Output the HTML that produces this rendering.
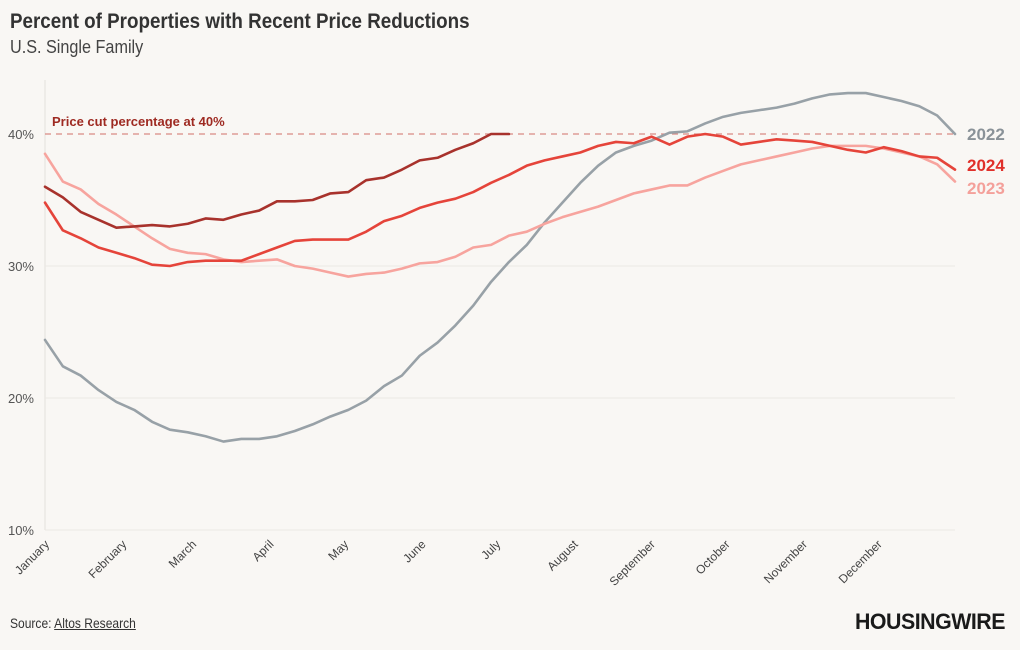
<!DOCTYPE html>
<html><head><meta charset="utf-8">
<style>
body{margin:0;background:#f9f7f4;font-family:"Liberation Sans",sans-serif;}
#wrap{position:relative;width:1020px;height:650px;overflow:hidden;background:#f9f7f4}
.t{position:absolute;left:10px;top:10px;font-size:21px;font-weight:bold;color:#333;transform:scaleX(0.895);transform-origin:left top;white-space:nowrap}
.st{position:absolute;left:10px;top:37px;font-size:18px;color:#444;transform:scaleX(0.9);transform-origin:left top;white-space:nowrap}
.src{position:absolute;left:10px;top:615px;font-size:14px;color:#333;transform:scaleX(0.86);transform-origin:left top;white-space:nowrap}
.src u{color:#333}
.logo{position:absolute;left:855px;top:609px;font-size:22px;font-weight:900;color:#1a1a1a;letter-spacing:-0.5px;font-family:"Liberation Sans",sans-serif;transform:scaleX(0.97);transform-origin:left top;white-space:nowrap}
</style></head><body>
<div id="wrap">
<div class="t">Percent of Properties with Recent Price Reductions</div>
<div class="st">U.S. Single Family</div>
<svg id="chart" width="1020" height="650" style="position:absolute;left:0;top:0"></svg>
<div class="src">Source: <u>Altos Research</u></div>
<div class="logo">HOUSINGWIRE</div>
</div>
<script>
const months=["January","February","March","April","May","June","July","August","September","October","November","December"];
const monthDays=[0,31,59,90,120,151,181,212,243,273,304,334];
const yTicks=[10,20,30,40];
const s2022=[24.4,22.4,21.7,20.6,19.7,19.1,18.2,17.6,17.4,17.1,16.7,16.9,16.9,17.1,17.5,18.0,18.6,19.1,19.8,20.9,21.7,23.2,24.2,25.5,27.0,28.8,30.3,31.6,33.3,34.8,36.3,37.6,38.6,39.1,39.5,40.1,40.2,40.8,41.3,41.6,41.8,42.0,42.3,42.7,43.0,43.1,43.1,42.8,42.5,42.1,41.4,40.0];
const s2023=[38.5,36.4,35.8,34.7,33.9,33.0,32.1,31.3,31.0,30.9,30.5,30.3,30.4,30.5,30.0,29.8,29.5,29.2,29.4,29.5,29.8,30.2,30.3,30.7,31.4,31.6,32.3,32.6,33.2,33.7,34.1,34.5,35.0,35.5,35.8,36.1,36.1,36.7,37.2,37.7,38.0,38.3,38.6,38.9,39.1,39.1,39.1,38.9,38.6,38.3,37.7,36.4];
const s2024=[34.8,32.7,32.1,31.4,31.0,30.6,30.1,30.0,30.3,30.4,30.4,30.4,30.9,31.4,31.9,32.0,32.0,32.0,32.6,33.4,33.8,34.4,34.8,35.1,35.6,36.3,36.9,37.6,38.0,38.3,38.6,39.1,39.4,39.3,39.8,39.2,39.8,40.0,39.8,39.2,39.4,39.6,39.5,39.4,39.1,38.8,38.6,39.0,38.7,38.3,38.2,37.3];
const s2025=[36.0,35.2,34.1,33.5,32.9,33.0,33.1,33.0,33.2,33.6,33.5,33.9,34.2,34.9,34.9,35.0,35.5,35.6,36.5,36.7,37.3,38.0,38.2,38.8,39.3,40.0,40.0];
const threshold=40;
const X0=45,X1=955,Y0=530,Y1=134;
const xw=i=>X0+i*(X1-X0)/51;
const xd=d=>X0+d/365*(X1-X0);
const y=v=>Y0-(v-10)/(40-10)*(Y0-Y1);
const svg=document.getElementById('chart');
const NS='http://www.w3.org/2000/svg';
function mk(tag,attrs,parent){const e=document.createElementNS(NS,tag);for(const k in attrs)e.setAttribute(k,attrs[k]);(parent||svg).appendChild(e);return e;}
mk('line',{x1:X0,x2:X0,y1:80,y2:Y0,stroke:'#e4e1dc','stroke-width':1});
yTicks.forEach(t=>{
 if(t!==threshold){const g=mk('line',{x1:X0,x2:X1,y1:y(t),y2:y(t),stroke:'#ebe8e3','stroke-width':1});
 
 }
 const tx=mk('text',{x:X0-11,y:y(t)+5,'text-anchor':'end','font-size':13,fill:'#555','font-family':'Liberation Sans, sans-serif'});
 tx.textContent=t+'%';
 
 
});
months.forEach((m,i)=>{
 const xx=xd(monthDays[i])+5;
 const tx=mk('text',{x:xx,y:545,'text-anchor':'end','font-size':12,fill:'#444',transform:`rotate(-45 ${xx} 545)`,'font-family':'Liberation Sans, sans-serif'});
 tx.textContent=m;
 
 
});
const th=mk('line',{x1:X0,x2:X1,y1:y(threshold),y2:y(threshold),stroke:'#d98a85','stroke-width':1.3,'stroke-dasharray':'6,5'});


const tl=mk('text',{x:52,y:y(threshold)-8,'font-size':13,'font-weight':'bold',fill:'#9e2a22','font-family':'Liberation Sans, sans-serif'});
tl.textContent='Price cut percentage at '+threshold+'%';


function line(data,color,name){
 const p=mk('polyline',{points:data.map((v,i)=>xw(i)+','+y(v)).join(' '),fill:'none',stroke:color,'stroke-width':2.6,'stroke-linejoin':'round','stroke-linecap':'round'});
 
 
}
line(s2022,'#98a1a7','line-2022');
line(s2023,'#f7a49e','line-2023');
line(s2024,'#e5443a','line-2024');
line(s2025,'#a8322c','line-2025');
function lab(txt,v,color,name){
 const t=mk('text',{x:967,y:y(v)+6,'font-size':17,'font-weight':'bold',fill:color,'font-family':'Liberation Sans, sans-serif'});
 t.textContent=txt;
 
 
}
lab('2022',s2022[51],'#8a9298','label-2022');
lab('2024',s2024[51]+0.35,'#e0302a','label-2024');
lab('2023',s2023[51]-0.5,'#f4a09a','label-2023');
</script>
</body></html>
